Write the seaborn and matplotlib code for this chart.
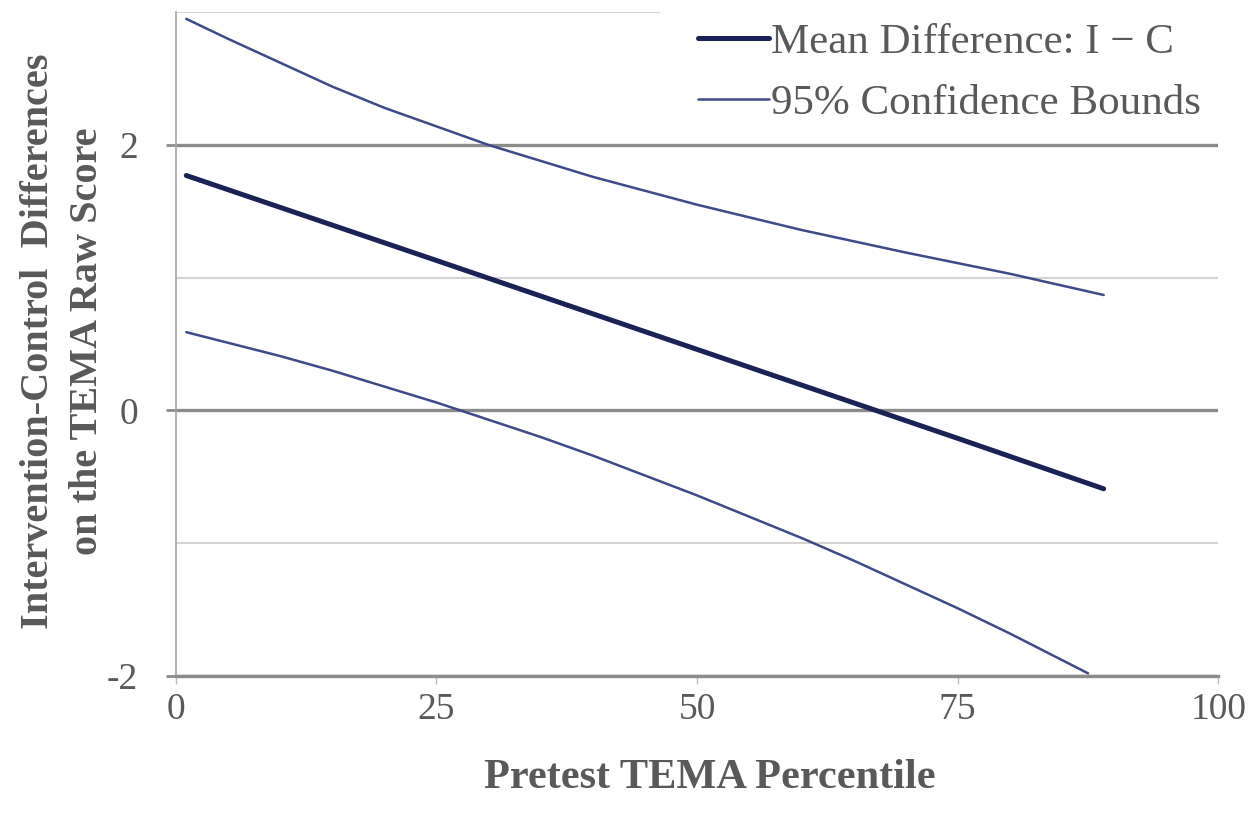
import numpy as np
import pandas as pd
import matplotlib
matplotlib.use("Agg")
import matplotlib.pyplot as plt
from matplotlib.lines import Line2D
from matplotlib.patches import Rectangle
import seaborn as sns

# Values
pct_mean = [1, 25, 50, 75, 89]
mean_diff = [1.77, 1.13, 0.46, -0.21, -0.59]

pct_upper = [1, 5, 10, 15, 20, 25, 30, 35, 40, 50, 60, 70, 80, 89]
upper_bound = [2.95, 2.80, 2.62, 2.44, 2.28, 2.14, 2.00, 1.88, 1.76, 1.55, 1.36, 1.19, 1.03, 0.87]

pct_lower = [1, 5, 10, 15, 20, 25, 30, 35, 40, 45, 50, 55, 60, 65, 70, 75, 80, 85, 87.5]
lower_bound = [0.59, 0.51, 0.41, 0.30, 0.18, 0.06, -0.07, -0.20, -0.34, -0.49, -0.64,
               -0.80, -0.96, -1.13, -1.31, -1.49, -1.68, -1.88, -1.98]

x_ticks = [0, 25, 50, 75, 100]
y_ticks = [-2, 0, 2]
y_minor = [-1, 1, 3]

series_labels = ["Mean Difference: I \u2212 C", "95% Confidence Bounds"]

mean_color = "#1b2356"
ci_color = "#3f4a8a"
text_color = "#595959"

sns.set_style("white")
plt.rcParams["font.family"] = ["Liberation Serif", "DejaVu Serif"]
plt.rcParams["axes.unicode_minus"] = False

fig, ax = plt.subplots(figsize=(12.56, 8.15), dpi=100)
fig.subplots_adjust(left=0.140, right=0.970, bottom=0.1706, top=0.985)

sns.lineplot(x=pct_upper, y=upper_bound, ax=ax, color=ci_color, linewidth=1.8)
sns.lineplot(x=pct_lower, y=lower_bound, ax=ax, color=ci_color, linewidth=1.8)
sns.lineplot(x=pct_mean, y=mean_diff, ax=ax, color=mean_color, linewidth=3.6)

ax.set_xlim(0, 100)
ax.set_ylim(-2, 3)
ax.set_xticks(x_ticks)
ax.set_yticks(y_ticks)
ax.set_yticks(y_minor, minor=True)

ax.set_axisbelow(True)
ax.grid(axis="y", which="major", color="#8c8c8c", linewidth=2.4)
ax.grid(axis="y", which="minor", color="#d4d4d4", linewidth=1.5)
ax.grid(axis="x", visible=False)

for side in ["top", "right"]:
    ax.spines[side].set_visible(False)
ax.spines["left"].set_color("#a6a6a6")
ax.spines["left"].set_linewidth(1.2)
ax.spines["bottom"].set_color("#8c8c8c")
ax.spines["bottom"].set_linewidth(2.4)

ax.tick_params(axis="y", which="major", direction="out", length=7, width=2,
               color="#8c8c8c", pad=20, labelsize=27, labelcolor=text_color, left=True)
ax.tick_params(axis="y", which="minor", length=0)
ax.tick_params(axis="x", direction="out", length=6, width=1,
               color="#bfbfbf", pad=6, labelsize=27, labelcolor=text_color, bottom=True)

ax.set_xlabel("")
ax.set_ylabel("")
fig.text(710 / 1256, 1 - 778 / 815, "Pretest TEMA Percentile", ha="center", va="center",
         fontsize=30.5, fontweight="bold", color=text_color)
fig.text(63 / 1256, 1 - 341 / 815,
         "Intervention-Control  Differences\non the TEMA Raw Score",
         rotation=90, ha="center", va="center", multialignment="center",
         fontsize=29, fontweight="bold", color=text_color, linespacing=1.45)

# white box behind the legend, hiding the top gridline like the original
fig.add_artist(Rectangle((660 / 1256, 1 - 135 / 815), 1, 135 / 815,
                         transform=fig.transFigure, facecolor="white",
                         edgecolor="none", zorder=4))

handles = [Line2D([0], [0], color=mean_color, linewidth=3.6),
           Line2D([0], [0], color=ci_color, linewidth=1.8)]
leg = fig.legend(handles, series_labels, loc="upper left",
                 bbox_to_anchor=(689.4 / 1256, 0.9823), frameon=False, fontsize=31,
                 handlelength=1.64, handletextpad=0.05, borderpad=0.2,
                 labelspacing=0.5, borderaxespad=0)
leg.set_zorder(5)
for t in leg.get_texts():
    t.set_color(text_color)

fig.savefig("out.png", dpi=100)
